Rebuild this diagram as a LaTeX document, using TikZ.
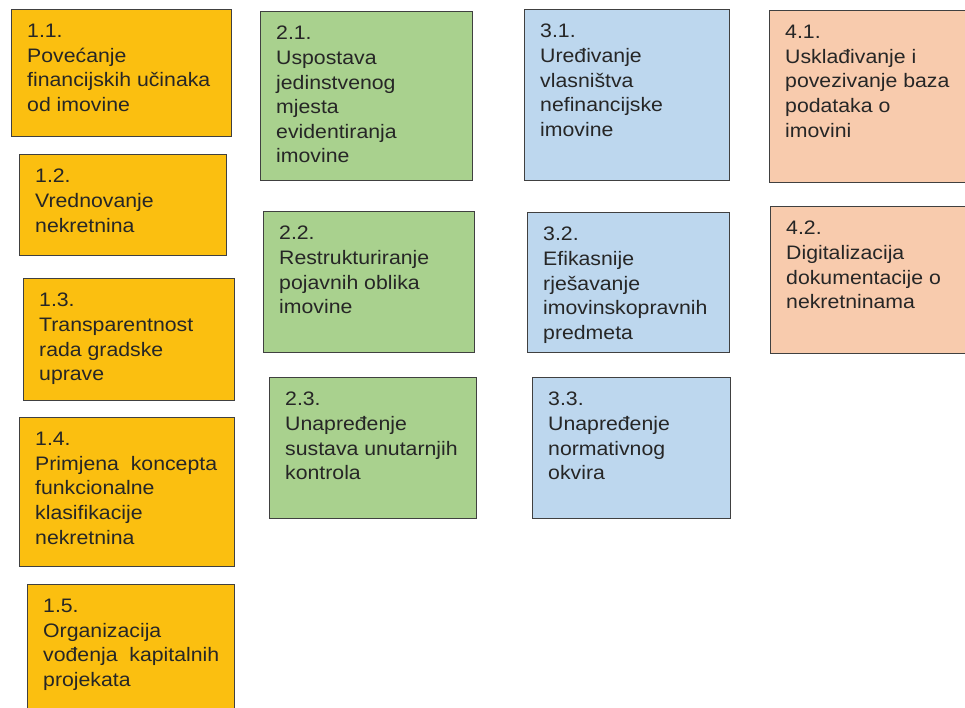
\documentclass[tikz,border=0pt]{standalone}
\usepackage{fontspec}
\setmainfont{Liberation Sans}[FakeStretch=1.09]
\usetikzlibrary{positioning,calc}
\definecolor{goalorange}{RGB}{251,191,16}
\definecolor{goalgreen}{RGB}{169,209,142}
\definecolor{goalblue}{RGB}{189,215,238}
\definecolor{goalpeach}{RGB}{248,203,173}
\definecolor{edgegray}{RGB}{64,64,64}
\definecolor{textgray}{RGB}{38,38,38}

\begin{document}
\begin{tikzpicture}[x=1pt,y=-1pt,
                       goal box/.style={draw=edgegray,line width=1pt,anchor=north west,
                                        inner sep=0pt},
                       orange box/.style={goal box,fill=goalorange},
                       green box/.style={goal box,fill=goalgreen},
                       blue box/.style={goal box,fill=goalblue},
                       peach box/.style={goal box,fill=goalpeach},
                       goal text/.style={anchor=north west,align=left,inner sep=0pt,
                                         text=textgray,font=\fontsize{19.5}{24.6}\selectfont}
                           ]
   \clip (0,0) rectangle (965,707);
   % column 1
   \node[orange box,minimum width=220pt,minimum height=127pt] (b11) at (11,9) {};
   \node[orange box,minimum width=207pt,minimum height=101pt] (b12) at (19,154) {};
   \node[orange box,minimum width=211pt,minimum height=122pt] (b13) at (23,278) {};
   \node[orange box,minimum width=215pt,minimum height=149pt] (b14) at (19,417) {};
   \node[orange box,minimum width=207pt,minimum height=140pt] (b15) at (27,584) {};
   % column 2
   \node[green box,minimum width=212pt,minimum height=169pt] (b21) at (260,11) {};
   \node[green box,minimum width=211pt,minimum height=141pt] (b22) at (263,211) {};
   \node[green box,minimum width=207pt,minimum height=141pt] (b23) at (269,377) {};
   % column 3
   \node[blue box,minimum width=205pt,minimum height=171pt] (b31) at (524,9) {};
   \node[blue box,minimum width=202pt,minimum height=140pt] (b32) at (527,212) {};
   \node[blue box,minimum width=198pt,minimum height=141pt] (b33) at (532,377) {};
   % column 4
   \node[peach box,minimum width=210pt,minimum height=172pt] (b41) at (769,10) {};
   \node[peach box,minimum width=210pt,minimum height=147pt] (b42) at (770,206) {};
   % texts
   \node[goal text] (t11) at ([shift={(16pt,-15pt)}]b11.north west)
      {1.1.\\Povećanje\\financijskih učinaka\\od imovine};
   \node[goal text] (t12) at ([shift={(16pt,-15pt)}]b12.north west)
      {1.2.\\Vrednovanje\\nekretnina};
   \node[goal text] (t13) at ([shift={(16pt,-15pt)}]b13.north west)
      {1.3.\\Transparentnost\\rada gradske\\uprave};
   \node[goal text] (t14) at ([shift={(16pt,-15pt)}]b14.north west)
      {1.4.\\Primjena\ \ koncepta\\funkcionalne\\klasifikacije\\nekretnina};
   \node[goal text] (t15) at ([shift={(16pt,-15pt)}]b15.north west)
      {1.5.\\Organizacija\\vođenja\ \ kapitalnih\\projekata};
   \node[goal text] (t21) at ([shift={(16pt,-15pt)}]b21.north west)
      {2.1.\\Uspostava\\jedinstvenog\\mjesta\\evidentiranja\\imovine};
   \node[goal text] (t22) at ([shift={(16pt,-15pt)}]b22.north west)
      {2.2.\\Restrukturiranje\\pojavnih oblika\\imovine};
   \node[goal text] (t23) at ([shift={(16pt,-15pt)}]b23.north west)
      {2.3.\\Unapređenje\\sustava unutarnjih\\kontrola};
   \node[goal text] (t31) at ([shift={(16pt,-15pt)}]b31.north west)
      {3.1.\\Uređivanje\\vlasništva\\nefinancijske\\imovine};
   \node[goal text] (t32) at ([shift={(16pt,-15pt)}]b32.north west)
      {3.2.\\Efikasnije\\rješavanje\\imovinskopravnih\\predmeta};
   \node[goal text] (t33) at ([shift={(16pt,-15pt)}]b33.north west)
      {3.3.\\Unapređenje\\normativnog\\okvira};
   \node[goal text] (t41) at ([shift={(16pt,-15pt)}]b41.north west)
      {4.1.\\Usklađivanje i\\povezivanje baza\\podataka o\\imovini};
   \node[goal text] (t42) at ([shift={(16pt,-15pt)}]b42.north west)
      {4.2.\\Digitalizacija\\dokumentacije o\\nekretninama};
\end{tikzpicture}
\end{document}
